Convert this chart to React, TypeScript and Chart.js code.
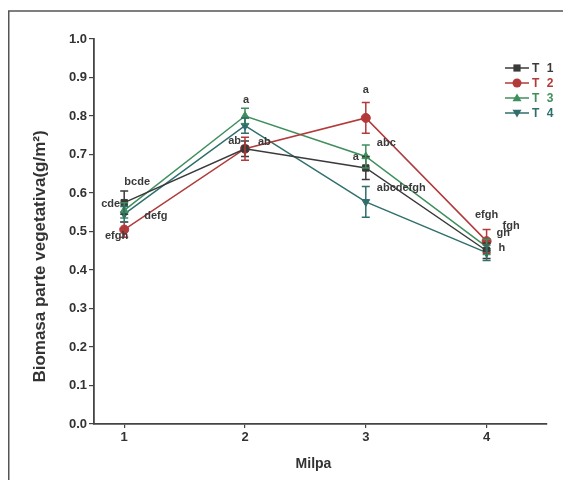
import React, { useEffect, useRef } from "react";
import { Chart, registerables } from "chart.js";

Chart.register(...registerables);

const milpa = [1, 2, 3, 4];
const seriesNames = ["T 1", "T 2", "T 3", "T 4"];
const t1 = [0.575, 0.715, 0.665, 0.45];
const t2 = [0.505, 0.715, 0.795, 0.475];
const t3 = [0.555, 0.8, 0.695, 0.46];
const t4 = [0.545, 0.775, 0.577, 0.445];
const t1Err = [0.03, 0.02, 0.03, 0.02];
const t2Err = [0.02, 0.03, 0.04, 0.03];
const t3Err = [0.02, 0.02, 0.03, 0.02];
const t4Err = [0.02, 0.02, 0.04, 0.02];
const yTicks = [0, 0.1, 0.2, 0.3, 0.4, 0.5, 0.6, 0.7, 0.8, 0.9, 1.0];

// significance letters: text, series index, point index
const letterTexts = ["bcde", "cde", "defg", "efgh", "a", "ab", "ab", "a", "abc", "a", "abcdefgh", "efgh", "fgh", "gh", "h"];
const letterSeries = [0, 0, 3, 1, 2, 0, 1, 1, 1, 2, 0, 1, 1, 1, 3];
const letterPoint = [0, 0, 0, 0, 1, 1, 1, 2, 2, 2, 2, 3, 3, 3, 3];

// layout of the letters (offset from the point, alignment)
const letterLayout: { dx: number; dy: number; align: CanvasTextAlign }[] = [
  { dx: 13, dy: -21, align: "center" },
  { dx: -4, dy: 1, align: "right" },
  { dx: 20, dy: 2, align: "left" },
  { dx: 4, dy: 6, align: "right" },
  { dx: 1, dy: -16, align: "center" },
  { dx: -4, dy: -8, align: "right" },
  { dx: 13, dy: -7, align: "left" },
  { dx: 0, dy: -28, align: "center" },
  { dx: 11, dy: 25, align: "left" },
  { dx: -7, dy: 1, align: "right" },
  { dx: 11, dy: 20, align: "left" },
  { dx: 0, dy: -26, align: "center" },
  { dx: 16, dy: -15, align: "left" },
  { dx: 10, dy: -8, align: "left" },
  { dx: 12, dy: -5, align: "left" },
];

const colors = ["#3a3a3a", "#b23a3a", "#3f8f5c", "#2f6f6c"];
const styles = ["rect", "circle", "triangle", "triangle"];
const rotations = [0, 0, 0, 180];
const values = [t1, t2, t3, t4];
const errors = [t1Err, t2Err, t3Err, t4Err];

const FONT = "'Liberation Sans', Arial, sans-serif";

function drawMarker(ctx: CanvasRenderingContext2D, style: string, rot: number, x: number, y: number, r: number) {
  ctx.beginPath();
  if (style === "rect") {
    ctx.rect(x - r * 0.8, y - r * 0.8, r * 1.6, r * 1.6);
  } else if (style === "circle") {
    ctx.arc(x, y, r, 0, Math.PI * 2);
  } else {
    const dir = rot === 180 ? -1 : 1;
    ctx.moveTo(x, y - dir * r);
    ctx.lineTo(x - r, y + dir * r * 0.7);
    ctx.lineTo(x + r, y + dir * r * 0.7);
    ctx.closePath();
  }
  ctx.fill();
}

const decorPlugin = {
  id: "decor",
  beforeDraw(chart: any) {
    const ctx = chart.ctx;
    ctx.save();
    ctx.strokeStyle = "#555";
    ctx.lineWidth = 1.5;
    ctx.beginPath();
    ctx.moveTo(0.75, chart.height);
    ctx.lineTo(0.75, 3);
    ctx.lineTo(chart.width, 3);
    ctx.stroke();
    ctx.restore();
  },
  afterDatasetsDraw(chart: any) {
    const ctx = chart.ctx;
    const xs = chart.scales.x;
    const ys = chart.scales.y;
    ctx.save();
    // error bars
    values.forEach((vals, s) => {
      ctx.strokeStyle = colors[s];
      ctx.lineWidth = 1.5;
      vals.forEach((v, i) => {
        const px = xs.getPixelForValue(milpa[i]);
        const top = ys.getPixelForValue(v + errors[s][i]);
        const bot = ys.getPixelForValue(v - errors[s][i]);
        ctx.beginPath();
        ctx.moveTo(px, top);
        ctx.lineTo(px, bot);
        ctx.moveTo(px - 4, top);
        ctx.lineTo(px + 4, top);
        ctx.moveTo(px - 4, bot);
        ctx.lineTo(px + 4, bot);
        ctx.stroke();
      });
    });
    // letters
    ctx.font = `bold 11px ${FONT}`;
    ctx.fillStyle = "#3a3a3a";
    ctx.textBaseline = "middle";
    letterTexts.forEach((t, k) => {
      const s = letterSeries[k];
      const i = letterPoint[k];
      const px = xs.getPixelForValue(milpa[i]);
      const py = ys.getPixelForValue(values[s][i]);
      const L = letterLayout[k];
      ctx.textAlign = L.align;
      ctx.fillText(t, px + L.dx, py + L.dy);
    });
    // axis titles
    ctx.fillStyle = "#333";
    ctx.font = `bold 14px ${FONT}`;
    ctx.textAlign = "center";
    ctx.textBaseline = "middle";
    ctx.fillText("Milpa", (xs.left + xs.right) / 2 - 7, 456);
    ctx.save();
    ctx.translate(32, (ys.top + ys.bottom) / 2 + 25);
    ctx.rotate(-Math.PI / 2);
    ctx.font = `bold 17px ${FONT}`;
    ctx.fillText("Biomasa parte vegetativa(g/m²)", 0, 0);
    ctx.restore();
    // legend
    seriesNames.forEach((name, s) => {
      const y = 60 + s * 15;
      ctx.strokeStyle = colors[s];
      ctx.fillStyle = colors[s];
      ctx.lineWidth = 1.5;
      ctx.beginPath();
      ctx.moveTo(497, y);
      ctx.lineTo(521, y);
      ctx.stroke();
      drawMarker(ctx, styles[s], rotations[s], 509, y, 4.5);
      ctx.font = `bold 12px ${FONT}`;
      ctx.textAlign = "left";
      (ctx as any).letterSpacing = "2px";
      ctx.fillText(name, 524, y + 1);
      (ctx as any).letterSpacing = "0px";
    });
    ctx.restore();
  },
};

export default function App() {
  const ref = useRef<HTMLCanvasElement>(null);
  useEffect(() => {
    if (!ref.current) return;
    const chart = new Chart(ref.current, {
      type: "line",
      data: {
        datasets: values.map((vals, s) => ({
          label: seriesNames[s],
          data: vals.map((v, i) => ({ x: milpa[i], y: v })),
          borderColor: colors[s],
          backgroundColor: colors[s],
          borderWidth: 1.5,
          pointStyle: styles[s] as any,
          rotation: rotations[s],
          pointRadius: 4.5,
          pointBorderWidth: 1,
          tension: 0,
          fill: false,
        })),
      },
      options: {
        animation: false,
        responsive: false,
        maintainAspectRatio: false,
        layout: { padding: { left: 0, top: 31, right: 24, bottom: 0 } },
        plugins: { legend: { display: false }, tooltip: { enabled: false } },
        scales: {
          x: {
            type: "linear",
            min: 0.75,
            max: 4.5,
            afterBuildTicks: (scale: any) => {
              scale.ticks = milpa.map((v) => ({ value: v }));
            },
            afterFit: (scale: any) => {
              scale.height = 56;
            },
            ticks: {
              color: "#333",
              font: { family: FONT, size: 13, weight: "bold" },
              padding: 2,
              callback: (v: any) => String(v),
            },
            grid: { display: true, drawOnChartArea: false, drawTicks: true, tickLength: 4, color: "#444", lineWidth: 1.2 },
            border: { display: true, color: "#444", width: 1.8 },
          },
          y: {
            type: "linear",
            min: 0,
            max: 1,
            afterBuildTicks: (scale: any) => {
              scale.ticks = yTicks.map((v) => ({ value: v }));
            },
            afterFit: (scale: any) => {
              scale.width = 86;
            },
            ticks: {
              color: "#333",
              font: { family: FONT, size: 13, weight: "bold" },
              padding: 2,
              callback: (v: any) => Number(v).toFixed(1),
            },
            grid: { display: true, drawOnChartArea: false, drawTicks: true, tickLength: 5, color: "#444", lineWidth: 1.2 },
            border: { display: true, color: "#444", width: 1.8 },
          },
        },
      },
      plugins: [decorPlugin],
    });
    return () => chart.destroy();
  }, []);
  return (
    <div style={{ width: 563, height: 472 }}>
      <canvas ref={ref} width={563} height={472} style={{ display: "block" }} />
    </div>
  );
}
